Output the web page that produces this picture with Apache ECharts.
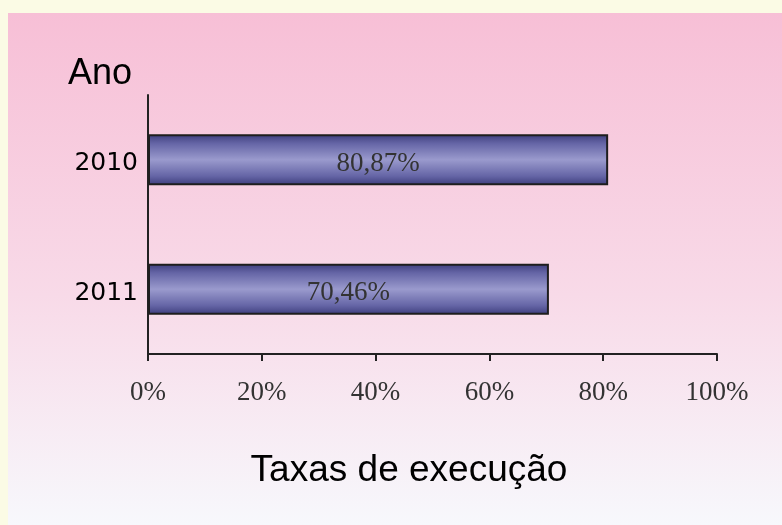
<!DOCTYPE html>
<html>
<head>
<meta charset="utf-8">
<script src="https://cdn.jsdelivr.net/npm/echarts@6/dist/echarts.min.js"></script>
<style>
  html, body { margin: 0; padding: 0; background: #fbfbe5; }
  #bg {
    position: absolute; left: 8px; top: 13px; right: 0; bottom: 0;
    background: linear-gradient(to bottom, #f7bfd6 0%, #f8dae8 55%, #f7f8fc 100%);
  }
  #chart { position: absolute; left: 0; top: 0; width: 782px; height: 525px; }
</style>
</head>
<body>
<div id="bg"></div>
<div id="chart"></div>
<script>
// dados
const years = ['2010', '2011']
const rates = [80.87, 70.46]
const xTicks = [0, 20, 40, 60, 80, 100]

const chart = echarts.init(document.getElementById('chart'))

const barGradient = new echarts.graphic.LinearGradient(0, 0, 0, 1, [
  { offset: 0, color: '#3d3d7c' },
  { offset: 0.18, color: '#6565a6' },
  { offset: 0.5, color: '#9a9acd' },
  { offset: 0.82, color: '#6565a6' },
  { offset: 1, color: '#3d3d7c' }
])

const serif = '"Liberation Serif", "Times New Roman", serif'

const option = {
  backgroundColor: 'transparent',
  animation: false,
  grid: { left: 148, right: 65, top: 95, bottom: 171 },
  graphic: [
    {
      type: 'text',
      style: {
        x: 68, y: 74, text: 'Ano',
        font: '36px "Liberation Sans", Arial, sans-serif',
        fill: '#000', verticalAlign: 'middle'
      }
    },
    {
      type: 'text',
      style: {
        x: 409, y: 471, text: 'Taxas de execução',
        font: '37px "Liberation Sans", Arial, sans-serif',
        fill: '#000', align: 'center', verticalAlign: 'middle'
      }
    }
  ],
  xAxis: {
    type: 'value',
    min: xTicks[0],
    max: xTicks[xTicks.length - 1],
    interval: 20,
    axisLine: { show: true, lineStyle: { color: '#222', width: 2 } },
    axisTick: { show: true, length: 7, lineStyle: { color: '#222', width: 2 } },
    splitLine: { show: false },
    axisLabel: {
      formatter: '{value}%',
      margin: 25,
      color: '#333',
      fontFamily: serif,
      fontSize: 27
    }
  },
  yAxis: {
    type: 'category',
    data: years,
    inverse: true,
    axisLine: { show: true, lineStyle: { color: '#222', width: 2 } },
    axisTick: { show: false },
    axisLabel: {
      margin: 10,
      verticalAlign: 'top',
      lineHeight: 8,
      color: '#000',
      fontFamily: '"DejaVu Sans", sans-serif',
      fontSize: 25
    }
  },
  series: [
    {
      type: 'bar',
      data: rates,
      barWidth: 51,
      itemStyle: {
        color: barGradient,
        borderColor: '#1e1e1e',
        borderWidth: 2
      },
      label: {
        show: true,
        position: 'inside',
        offset: [0, 4],
        color: '#333',
        fontFamily: serif,
        fontSize: 27,
        formatter: (p) => p.value.toFixed(2).replace('.', ',') + '%'
      }
    }
  ]
}

chart.setOption(option)
</script>
</body>
</html>
